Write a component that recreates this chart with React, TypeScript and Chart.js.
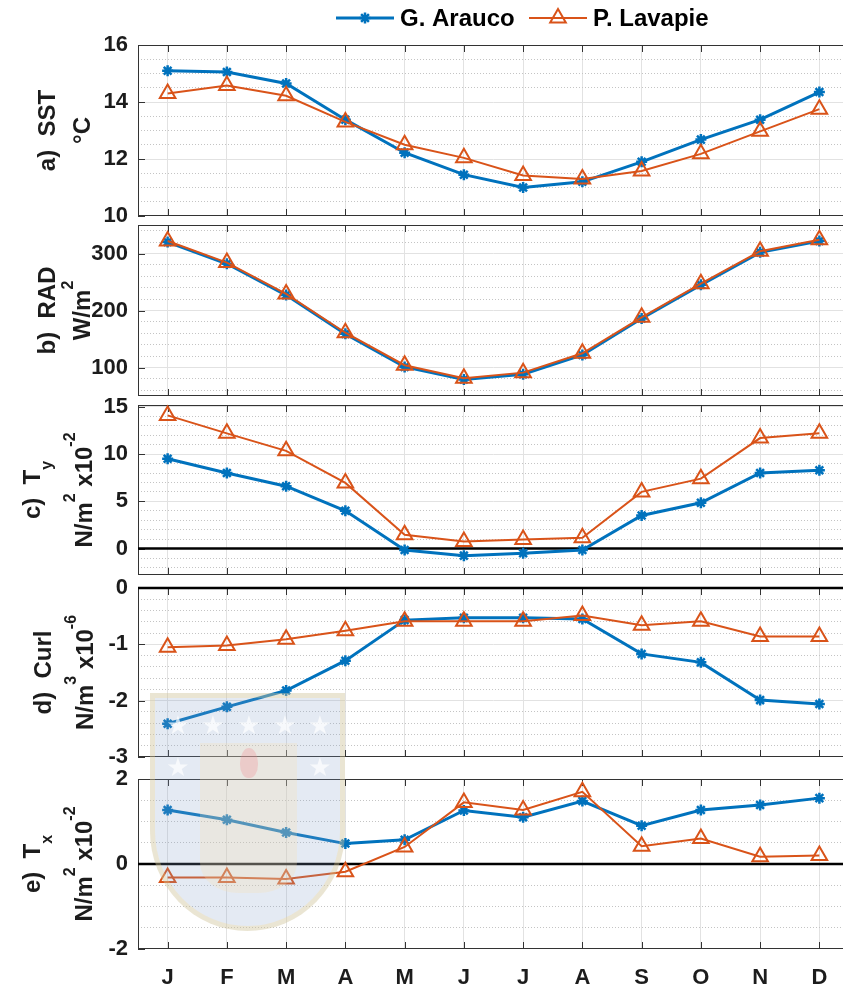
import React, { useEffect, useRef } from 'react';
import { Chart, registerables } from 'chart.js';

Chart.register(...registerables);

// ---------------- data ----------------
const months = ['J', 'F', 'M', 'A', 'M', 'J', 'J', 'A', 'S', 'O', 'N', 'D'];

const sstArauco = [15.1, 15.05, 14.65, 13.38, 12.22, 11.45, 11.0, 11.2, 11.9, 12.68, 13.38, 14.35];
const sstLavapie = [14.3, 14.58, 14.22, 13.3, 12.5, 12.04, 11.42, 11.3, 11.58, 12.18, 12.97, 13.75];

const radArauco = [320, 282, 227, 159, 101, 79, 88, 122, 186, 245, 302, 322];
const radLavapie = [322, 284, 229, 161, 104, 81, 91, 125, 188, 247, 304, 324];

const tyArauco = [9.5, 8.0, 6.6, 4.0, -0.15, -0.75, -0.5, -0.15, 3.5, 4.85, 8.0, 8.3];
const tyLavapie = [14.1, 12.2, 10.35, 6.95, 1.45, 0.75, 0.95, 1.15, 6.0, 7.4, 11.7, 12.2];

const curlArauco = [-2.41, -2.11, -1.82, -1.29, -0.57, -0.53, -0.53, -0.55, -1.17, -1.32, -1.99, -2.06];
const curlLavapie = [-1.05, -1.02, -0.91, -0.76, -0.59, -0.59, -0.59, -0.49, -0.66, -0.59, -0.86, -0.86];

const txArauco = [1.27, 1.04, 0.74, 0.48, 0.57, 1.26, 1.1, 1.48, 0.9, 1.27, 1.39, 1.55];
const txLavapie = [-0.32, -0.32, -0.35, -0.18, 0.4, 1.45, 1.27, 1.7, 0.42, 0.6, 0.17, 0.2];

const sstTicks = [10, 12, 14, 16];
const radTicks = [100, 200, 300];
const tyTicks = [0, 5, 10, 15];
const curlTicks = [-3, -2, -1, 0];
const txTicks = [-2, 0, 2];

const seriesNames = ['G. Arauco', 'P. Lavapie'];

// ---------------- styling / layout ----------------
const W = 849;
const H = 987;
const BLUE = '#0072BD';
const ORANGE = '#D95319';
const FONT = "'Liberation Sans', Arial, Helvetica, sans-serif";
const TEXT = '#1c1c1c';
const AXIS = '#333333';
const MAJOR_GRID = '#e2e2e2';
const MINOR_GRID = '#c4c4c4';

type Seg = { t: string; k?: 'sup' | 'sub' };

interface Panel {
  ara: number[];
  lav: number[];
  ticks: number[];
  min: number;
  max: number;
  minor: number;
  top: number;
  bottom: number;
  zero: boolean;
  line1: Seg[];
  line2: Seg[];
  b1: number;
  b2: number;
}

const panels: Panel[] = [
  {
    ara: sstArauco, lav: sstLavapie, ticks: sstTicks, min: 10, max: 16, minor: 0.5,
    top: 45, bottom: 216, zero: false,
    line1: [{ t: 'a)  SST' }], line2: [{ t: '°C' }], b1: 55, b2: 90,
  },
  {
    ara: radArauco, lav: radLavapie, ticks: radTicks, min: 50, max: 350, minor: 20,
    top: 225, bottom: 396, zero: false,
    line1: [{ t: 'b)  RAD' }], line2: [{ t: 'W/m' }, { t: '2', k: 'sup' }], b1: 55, b2: 90,
  },
  {
    ara: tyArauco, lav: tyLavapie, ticks: tyTicks, min: -2.8, max: 15.2, minor: 1,
    top: 405, bottom: 575, zero: true,
    line1: [{ t: 'c)  T' }, { t: 'y', k: 'sub' }],
    line2: [{ t: 'N/m' }, { t: '2', k: 'sup' }, { t: ' x10' }, { t: '-2', k: 'sup' }], b1: 40, b2: 92,
  },
  {
    ara: curlArauco, lav: curlLavapie, ticks: curlTicks, min: -3, max: 0, minor: 0.2,
    top: 588, bottom: 757, zero: true,
    line1: [{ t: 'd)  Curl' }],
    line2: [{ t: 'N/m' }, { t: '3', k: 'sup' }, { t: ' x10' }, { t: '-6', k: 'sup' }], b1: 51, b2: 93,
  },
  {
    ara: txArauco, lav: txLavapie, ticks: txTicks, min: -2, max: 2, minor: 0.5,
    top: 779, bottom: 949, zero: true,
    line1: [{ t: 'e)  T' }, { t: 'x', k: 'sub' }],
    line2: [{ t: 'N/m' }, { t: '2', k: 'sup' }, { t: ' x10' }, { t: '-2', k: 'sup' }], b1: 40, b2: 92,
  },
];

function isMultiple(v: number, step: number) {
  const r = v / step;
  return Math.abs(r - Math.round(r)) < 1e-6;
}

function minorValues(p: Panel): number[] {
  const out: number[] = [];
  const k0 = Math.ceil(p.min / p.minor - 1e-9);
  const k1 = Math.floor(p.max / p.minor + 1e-9);
  for (let k = k0; k <= k1; k++) {
    const v = Math.round(k * p.minor * 1e6) / 1e6;
    if (Math.abs(v - p.min) < 1e-9 || Math.abs(v - p.max) < 1e-9) continue;
    if (p.ticks.some((t) => Math.abs(t - v) < 1e-9)) continue;
    out.push(v);
  }
  return out;
}

function drawRich(ctx: CanvasRenderingContext2D, segs: Seg[], baseX: number, centerY: number) {
  const big = `bold 24px ${FONT}`;
  const small = `bold 16px ${FONT}`;
  let total = 0;
  const widths = segs.map((s) => {
    ctx.font = s.k ? small : big;
    const w = ctx.measureText(s.t).width;
    total += w;
    return w;
  });
  ctx.save();
  ctx.translate(baseX, centerY);
  ctx.rotate(-Math.PI / 2);
  ctx.fillStyle = TEXT;
  ctx.textBaseline = 'alphabetic';
  ctx.textAlign = 'left';
  let x = -total / 2;
  segs.forEach((s, i) => {
    ctx.font = s.k ? small : big;
    const dy = s.k === 'sup' ? -17 : s.k === 'sub' ? 12 : 0;
    ctx.fillText(s.t, x, dy);
    x += widths[i];
  });
  ctx.restore();
}

function drawStar(ctx: CanvasRenderingContext2D, x: number, y: number, r: number) {
  ctx.beginPath();
  for (let i = 0; i < 4; i++) {
    const a = (i * Math.PI) / 4;
    ctx.moveTo(x + Math.cos(a) * r, y + Math.sin(a) * r);
    ctx.lineTo(x - Math.cos(a) * r, y - Math.sin(a) * r);
  }
  ctx.stroke();
}

function drawTriangle(ctx: CanvasRenderingContext2D, x: number, y: number, r: number) {
  ctx.beginPath();
  for (let i = 0; i < 3; i++) {
    const a = (i * 2 * Math.PI) / 3;
    const px = x + Math.sin(a) * r;
    const py = y - Math.cos(a) * r;
    if (i === 0) ctx.moveTo(px, py);
    else ctx.lineTo(px, py);
  }
  ctx.closePath();
  ctx.stroke();
}

function makePlugin(p: Panel, idx: number) {
  return {
    id: 'panelDeco' + idx,
    beforeDatasetsDraw(chart: any) {
      const { ctx, chartArea: a, scales } = chart;
      ctx.save();
      ctx.strokeStyle = AXIS;
      ctx.lineWidth = 1;
      ctx.strokeRect(Math.round(a.left) + 0.5, Math.round(a.top) + 0.5, Math.round(a.right - a.left) - 1, Math.round(a.bottom - a.top) - 1);
      ctx.beginPath();
      const xs = scales.x;
      for (let i = 0; i < months.length; i++) {
        const px = Math.round(xs.getPixelForTick(i)) + 0.5;
        ctx.moveTo(px, a.top);
        ctx.lineTo(px, a.top + 7);
        ctx.moveTo(px, a.bottom);
        ctx.lineTo(px, a.bottom - 7);
      }
      for (const v of p.ticks) {
        const py = Math.round(scales.y.getPixelForValue(v)) + 0.5;
        ctx.moveTo(a.left, py);
        ctx.lineTo(a.left + 7, py);
      }
      ctx.stroke();
      if (p.zero) {
        const py = scales.y.getPixelForValue(0);
        ctx.strokeStyle = '#000000';
        ctx.lineWidth = 2.5;
        ctx.beginPath();
        ctx.moveTo(a.left, py);
        ctx.lineTo(a.right, py);
        ctx.stroke();
      }
      ctx.restore();
    },
    afterDraw(chart: any) {
      const { ctx } = chart;
      const cy = (p.top + p.bottom) / 2;
      drawRich(ctx, p.line1, p.b1, cy);
      drawRich(ctx, p.line2, p.b2, cy);
      if (idx === 0) {
        ctx.save();
        const ly = 18;
        ctx.lineWidth = 3;
        ctx.strokeStyle = BLUE;
        ctx.beginPath();
        ctx.moveTo(336, ly);
        ctx.lineTo(394, ly);
        ctx.stroke();
        ctx.lineWidth = 2.5;
        drawStar(ctx, 365, ly, 5.5);
        ctx.lineWidth = 2;
        ctx.strokeStyle = ORANGE;
        ctx.beginPath();
        ctx.moveTo(529, ly);
        ctx.lineTo(587, ly);
        ctx.stroke();
        drawTriangle(ctx, 558, ly, 9);
        ctx.fillStyle = '#000000';
        ctx.font = `bold 24px ${FONT}`;
        ctx.textBaseline = 'middle';
        ctx.textAlign = 'left';
        ctx.fillText(seriesNames[0], 400, ly + 1);
        ctx.fillText(seriesNames[1], 593, ly + 1);
        ctx.restore();
      }
    },
  };
}

function makeConfig(p: Panel, idx: number): any {
  const isLast = idx === panels.length - 1;
  const minors = minorValues(p);
  return {
    type: 'line',
    data: {
      labels: months,
      datasets: [
        {
          label: seriesNames[1],
          data: p.lav,
          borderColor: ORANGE,
          borderWidth: 2,
          pointStyle: 'triangle',
          pointRadius: 9,
          pointBorderWidth: 2,
          pointBorderColor: ORANGE,
          pointBackgroundColor: 'rgba(0,0,0,0)',
          tension: 0,
          order: 0,
          clip: false,
        },
        {
          label: seriesNames[0],
          data: p.ara,
          borderColor: BLUE,
          borderWidth: 3,
          pointStyle: 'star',
          pointRadius: 5.5,
          pointBorderWidth: 2.5,
          pointBorderColor: BLUE,
          pointBackgroundColor: BLUE,
          tension: 0,
          order: 1,
          clip: false,
        },
      ],
    },
    options: {
      animation: false,
      responsive: false,
      devicePixelRatio: 1,
      events: [],
      layout: { autoPadding: false, padding: { top: p.top, bottom: isLast ? 0 : H - p.bottom, left: 0, right: 0 } },
      plugins: { legend: { display: false }, tooltip: { enabled: false }, title: { display: false } },
      scales: {
        x: {
          type: 'category',
          offset: true,
          grid: { offset: false, color: MAJOR_GRID, lineWidth: 1, drawTicks: false },
          border: { display: false },
          ticks: {
            display: isLast,
            autoSkip: false,
            maxRotation: 0,
            padding: 16,
            color: TEXT,
            font: { family: FONT, size: 22, weight: 'bold' },
          },
          afterFit: (s: any) => {
            s.height = isLast ? H - p.bottom : 0;
          },
        },
        y: {
          type: 'linear',
          position: 'left',
          min: p.min,
          max: p.max,
          afterBuildTicks: (s: any) => {
            s.ticks = p.ticks.map((v) => ({ value: v }));
          },
          ticks: {
            padding: 10,
            color: TEXT,
            font: { family: FONT, size: 22, weight: 'bold' },
            callback: (v: any) => String(v),
          },
          grid: {
            drawTicks: false,
            color: (c: any) => (c.tick && (c.tick.value === p.min || c.tick.value === p.max) ? 'rgba(0,0,0,0)' : MAJOR_GRID),
            lineWidth: 1,
          },
          border: { display: false },
          afterFit: (s: any) => {
            s.width = 138;
          },
        },
        ym: {
          type: 'linear',
          position: 'left',
          min: p.min,
          max: p.max,
          afterBuildTicks: (s: any) => {
            s.ticks = minors.map((v) => ({ value: v }));
          },
          ticks: { display: false },
          grid: {
            drawTicks: false,
            color: (c: any) => (c.tick && isMultiple(c.tick.value, p.ticks[1] - p.ticks[0]) ? 'rgba(0,0,0,0)' : MINOR_GRID),
            lineWidth: 1,
          },
          border: { display: false, dash: [1, 2] },
          afterFit: (s: any) => {
            s.width = 0;
          },
        },
      },
    },
    plugins: [makePlugin(p, idx)],
  };
}

function PanelChart({ p, idx }: { p: Panel; idx: number }) {
  const ref = useRef<HTMLCanvasElement>(null);
  useEffect(() => {
    const chart = new Chart(ref.current as HTMLCanvasElement, makeConfig(p, idx));
    return () => chart.destroy();
  }, [p, idx]);
  return (
    <canvas
      ref={ref}
      width={W}
      height={H}
      style={{ position: 'absolute', left: 0, top: 0, width: W, height: H }}
    />
  );
}

function Watermark() {
  const star = (x: number, y: number) => (
    <div
      key={`${x}-${y}`}
      style={{
        position: 'absolute', left: x - 12, top: y - 14, width: 24, height: 28,
        color: 'rgba(255,255,255,0.7)', fontSize: 26, lineHeight: '28px', textAlign: 'center',
        fontFamily: "'DejaVu Sans', sans-serif",
      }}
    >
      ★
    </div>
  );
  return (
    <div style={{ position: 'absolute', left: 0, top: 0, width: 843, height: 987, pointerEvents: 'none' }}>
      <div
        style={{
          position: 'absolute', left: 150, top: 693, width: 195, height: 238, boxSizing: 'border-box',
          background: 'rgba(130,160,200,0.22)', border: '5px solid rgba(250,215,130,0.28)',
          borderRadius: '0 0 50% 50% / 0 0 42% 42%',
        }}
      />
      <div
        style={{
          position: 'absolute', left: 200, top: 743, width: 97, height: 150,
          background: 'rgba(250,225,170,0.25)', borderRadius: '0 0 40% 40% / 0 0 20% 20%',
        }}
      />
      <div
        style={{
          position: 'absolute', left: 240, top: 748, width: 18, height: 30,
          background: 'rgba(240,130,140,0.28)', borderRadius: '50% 50% 45% 45%',
        }}
      />
      {[178, 213, 249, 285, 320].map((x) => star(x, 725))}
      {[178, 320].map((x) => star(x, 767))}
    </div>
  );
}

export default function App() {
  return (
    <div style={{ position: 'absolute', left: 0, top: 0, width: 843, height: 987, overflow: 'hidden', background: '#ffffff' }}>
      {panels.map((p, i) => (
        <PanelChart key={i} p={p} idx={i} />
      ))}
      <Watermark />
    </div>
  );
}
